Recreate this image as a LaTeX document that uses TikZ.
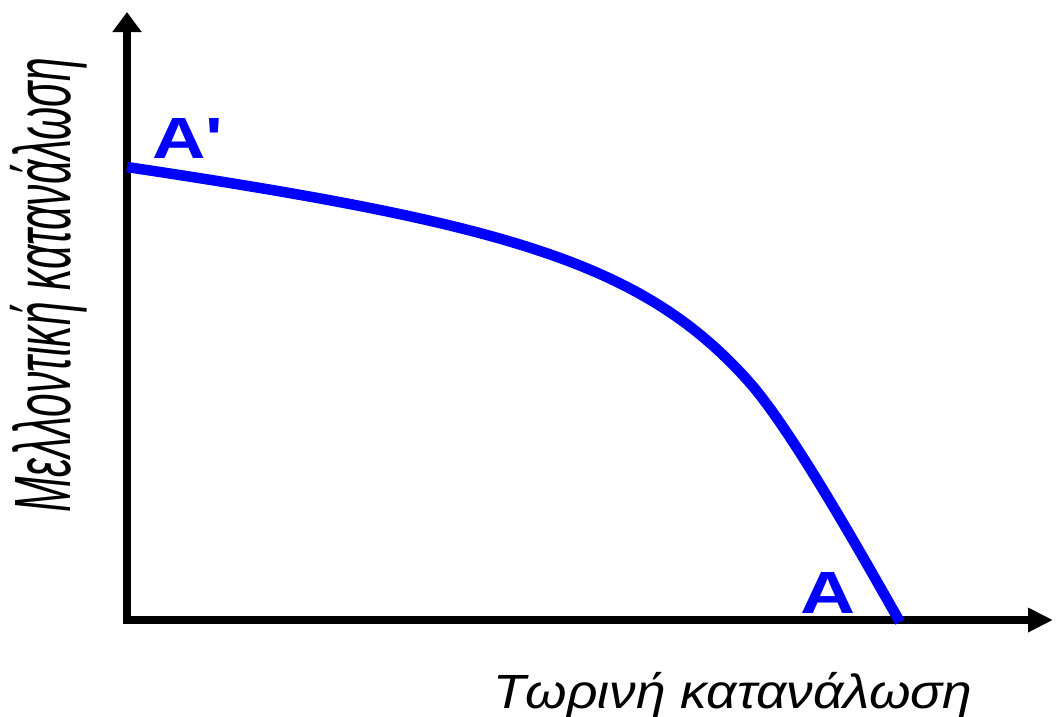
\documentclass[tikz,border=0pt]{standalone}
\usepackage{fontspec}
\usepackage{graphicx}
\setmainfont{Liberation Sans}
\newfontfamily\labfont{Liberation Sans}[Ligatures=TeXOff]
\usetikzlibrary{arrows.meta}
\definecolor{curveblue}{RGB}{0,0,255}
\tikzset{
  axis/.style={line width=8pt, black, arrows={Triangle[length=20pt,width=28pt]-Triangle[length=25pt,width=23pt]}},
  ppf/.style={line width=10.5pt, curveblue},
  pointlab/.style={inner sep=0pt, text=curveblue, anchor=base west},
  axislab/.style={inner sep=0pt, anchor=base west, text=black}
}
\begin{document}
\begin{tikzpicture}[x=1pt,y=-1pt]
\useasboundingbox (0,0) rectangle (1056,716);
\coordinate (ytip) at (127,12);
\coordinate (O) at (127,620);
\coordinate (xtip) at (1053,620);
\draw[axis] (ytip) -- (O) -- (xtip);
\coordinate (cstart) at (127,167);
\coordinate (cmid) at (750,383);
\coordinate (cend) at (900,622);
\draw[ppf] (cstart) .. controls (507,224) and (644,263) .. (cmid)
                    .. controls (796,435.5) and (875,578.7) .. (cend);
\node[pointlab] (Aprime) at (152,158) {\resizebox{71pt}{40pt}{\smash{\labfont\bfseries A'}\vphantom{A}}};
\node[pointlab] (A) at (800,613) {\resizebox{55pt}{41pt}{\smash{\labfont\bfseries A}\vphantom{A}}};
\node[axislab] (xlab) at (493,708) {\resizebox{479pt}{33pt}{\smash{\itshape Τωρινή κατανάλωση}\vphantom{T}}};
\node[axislab, rotate=90] (ylab) at (70,513) {\resizebox{455pt}{55pt}{\smash{\itshape Μελλοντική κατανάλωση}\vphantom{M}}};
\end{tikzpicture}
\end{document}
